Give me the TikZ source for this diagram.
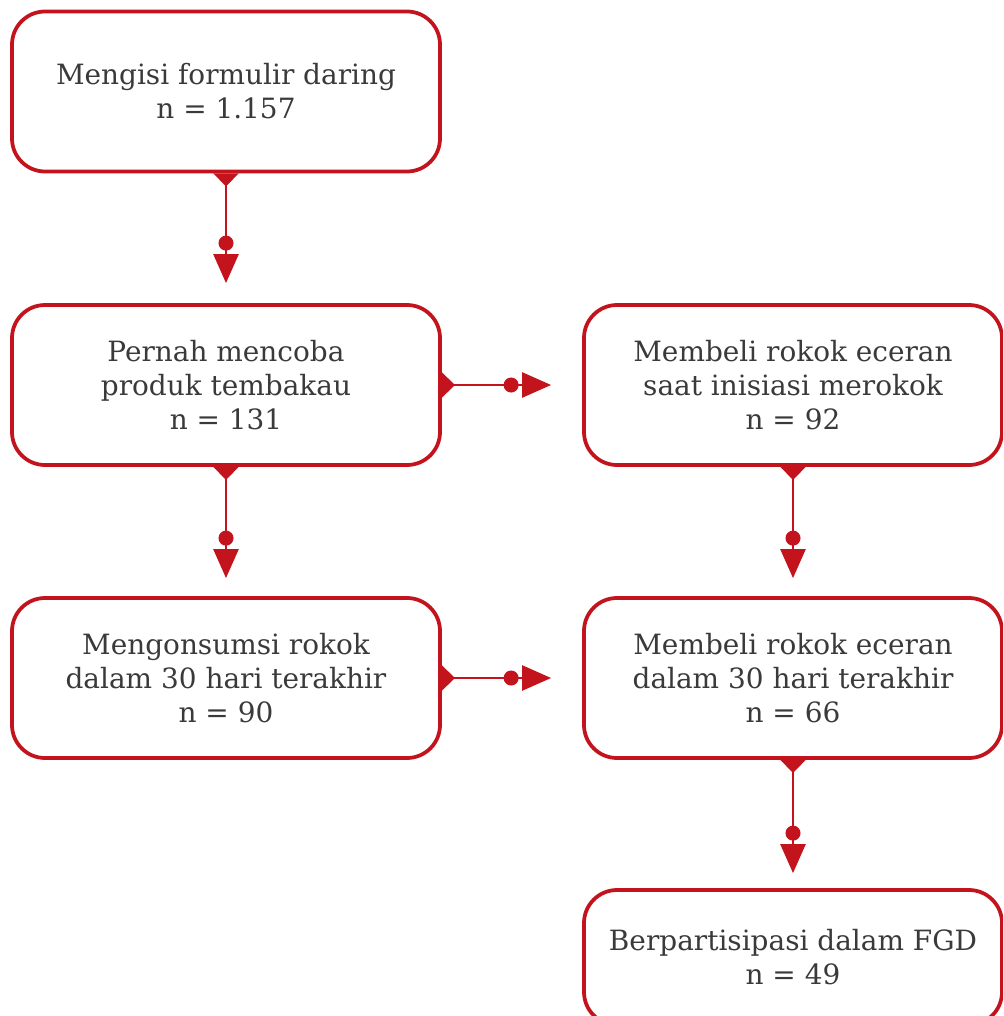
\documentclass[tikz,border=0pt]{standalone}
\usepackage{fontspec}
\setmainfont{DejaVu Serif}
\usetikzlibrary{arrows.meta}
\definecolor{boxred}{HTML}{C3141E}
\definecolor{txtgray}{HTML}{3A3A3A}
\begin{document}
\begin{tikzpicture}[
    stage/.style={draw=boxred, line width=0.075cm, rounded corners=0.66cm,
      minimum width=8.56cm, minimum height=3.2cm, align=center,
      text=txtgray, font=\fontsize{15.9}{19.3}\selectfont},
    flow/.style={draw=boxred, line width=0.05cm,
      {Triangle[reversed, length=0.26cm, width=0.5cm, fill=boxred]}-{Circle[length=0.3cm, sep=0.07cm] Triangle[length=0.58cm, width=0.5cm]}}
  ]
  \useasboundingbox (0,0) rectangle (20.06,-20.32);
  \begin{scope}
  \clip (0,0) rectangle (20.06,-20.32);

  % Left column
  \node [stage] (form) at (4.52,-1.83) {Mengisi formulir daring\\n = 1.157};
  \node [stage] (tried) at (4.52,-7.70) {Pernah mencoba\\produk tembakau\\n = 131};
  \node [stage] (smoke30) at (4.52,-13.56) {Mengonsumsi rokok\\dalam 30 hari terakhir\\n = 90};

  % Right column
  \node [stage, minimum width=8.36cm] (retailinit) at (15.86,-7.70) {Membeli rokok eceran\\saat inisiasi merokok\\n = 92};
  \node [stage, minimum width=8.36cm] (retail30) at (15.86,-13.56) {Membeli rokok eceran\\dalam 30 hari terakhir\\n = 66};
  \node [stage, minimum width=8.36cm, minimum height=2.7cm] (fgd) at (15.86,-19.15) {Berpartisipasi dalam FGD\\n = 49};
  \end{scope}

  % Connectors
  \draw [flow] (form.south) -- ([yshift=0.4cm]tried.north);
  \draw [flow] (tried.south) -- ([yshift=0.36cm]smoke30.north);
  \draw [flow] (tried.east) -- ([xshift=-0.62cm]retailinit.west);
  \draw [flow] (smoke30.east) -- ([xshift=-0.62cm]retail30.west);
  \draw [flow] (retailinit.south) -- ([yshift=0.36cm]retail30.north);
  \draw [flow] (retail30.south) -- ([yshift=0.3cm]fgd.north);
\end{tikzpicture}
\end{document}
